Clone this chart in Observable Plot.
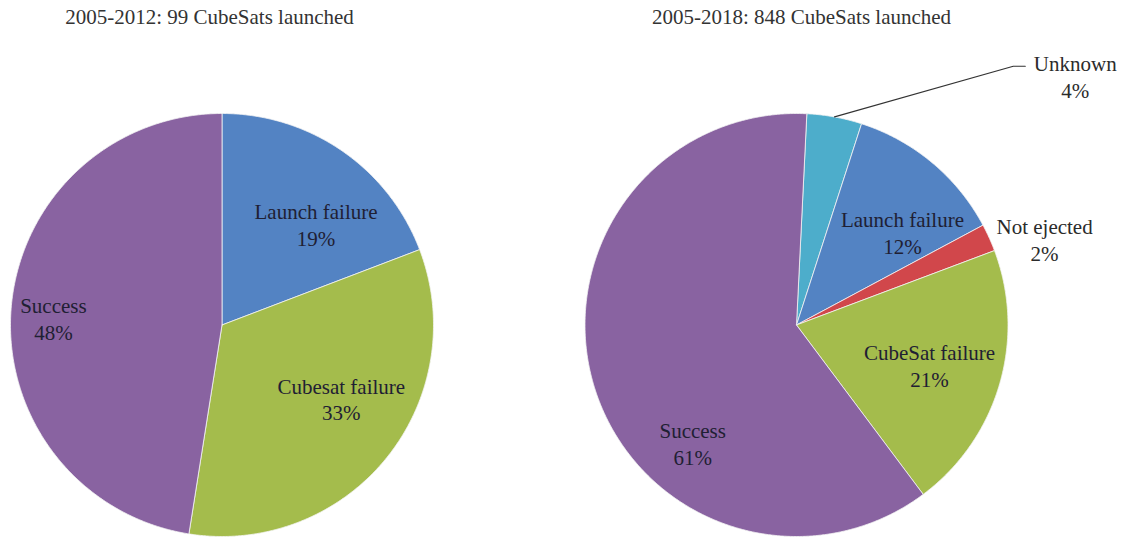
<!DOCTYPE html>
<html><head><meta charset="utf-8">
<script src="https://cdn.jsdelivr.net/npm/d3@7"></script>
<script src="https://cdn.jsdelivr.net/npm/@observablehq/plot@0.6"></script>
<style>body{margin:0;background:#fff;}</style>
</head><body><div id="chart"></div>
<script>
// ---- data ----
const titles = ["2005-2012: 99 CubeSats launched", "2005-2018: 848 CubeSats launched"];
const categories1 = ["Launch failure", "Cubesat failure", "Success"];
const values1 = [19.2, 33.3, 47.5];
const labels1 = ["19%", "33%", "48%"];
const categories2 = ["Unknown", "Launch failure", "Not ejected", "CubeSat failure", "Success"];
const values2 = [4.2, 12.2, 2.1, 20.5, 61.0];
const labels2 = ["4%", "12%", "2%", "21%", "61%"];

// ---- styling / layout ----
const colorOf = {
  "launch failure": "#5383C3",
  "cubesat failure": "#A4BC4C",
  "success": "#8963A1",
  "unknown": "#4DADCB",
  "not ejected": "#D1474B"
};
const FONT = "Liberation Serif";
const FS = 21;
const R = 211.5; // px per unit (pie radius)
const W = 1125, H = 537;
const cx1 = 221.5, cx2 = 796, cy = 324.5;
const xDomain = [-cx1 / R, (W - cx1) / R];
const yDomain = [-(H - cy) / R, cy / R];
const pies = [
  {cats: categories1, vals: values1, labs: labels1, cx: 0, cy: 0, start: 0,
   layout: [[43, 0.652], [121.6, 0.662], [272.5, 0.798]]},
  {cats: categories2, vals: values2, labs: labels2, cx: (cx2 - cx1) / R, cy: 0, start: 2.8,
   layout: [[48.2, 1.768], [48.7, 0.667], [70.8, 1.242], [106.5, 0.656], [221.4, 0.742]]}
];
const rad = Math.PI / 180;
const marks = [];
const texts = [];
let leader = null;
pies.forEach((p, pi) => {
  const arcs = d3.pie().sort(null).value(d => d)
    .startAngle(p.start * rad).endAngle(p.start * rad + 2 * Math.PI)(p.vals);
  arcs.forEach((a, i) => {
    const pts = [{x: p.cx, y: p.cy}];
    const n = Math.max(4, Math.ceil((a.endAngle - a.startAngle) / (0.4 * rad)));
    for (let k = 0; k <= n; k++) {
      const t = a.startAngle + (a.endAngle - a.startAngle) * k / n;
      pts.push({x: p.cx + Math.sin(t), y: p.cy + Math.cos(t)});
    }
    pts.push({x: p.cx, y: p.cy});
    marks.push(Plot.line(pts, {x: "x", y: "y", fill: colorOf[p.cats[i].toLowerCase()],
      stroke: "#f4f4f4", strokeWidth: 0.8, strokeLinejoin: "round"}));
    const [ang, rf] = p.layout[i];
    const lx = p.cx + rf * Math.sin(ang * rad), ly = p.cy + rf * Math.cos(ang * rad);
    const outside = rf > 1;
    texts.push({x: lx, y: ly, text: p.cats[i] + "\n" + p.labs[i], outside});
    if (p.cats[i] === "Unknown") {
      const mid = (a.startAngle + a.endAngle) / 2;
      leader = [
        {x: p.cx + Math.sin(mid), y: p.cy + Math.cos(mid)},
        {x: lx - 62 / R, y: ly + 9.5 / R},
        {x: lx - 50 / R, y: ly + 9.5 / R}
      ];
    }
  });
});
if (leader) marks.push(Plot.line(leader, {x: "x", y: "y", stroke: "#333", strokeWidth: 1.2}));
marks.push(Plot.text(texts, {x: "x", y: "y", text: "text", fill: d => d.outside ? "#2b2b2b" : "#1f2033",
  fontSize: FS, lineHeight: 27 / FS, fontFamily: FONT}));
marks.push(Plot.text([titles[0]], {x: () => pies[0].cx, frameAnchor: "top", lineAnchor: "middle", dy: 17, dx: -12.5,
  text: d => d, fontSize: FS, fill: "#333", fontFamily: FONT}));
marks.push(Plot.text([titles[1]], {x: () => pies[1].cx, frameAnchor: "top", lineAnchor: "middle", dy: 17, dx: 5,
  text: d => d, fontSize: FS, fill: "#333", fontFamily: FONT}));

const chart = Plot.plot({
  width: W, height: H,
  margin: 0,
  x: {domain: xDomain, axis: null},
  y: {domain: yDomain, axis: null},
  style: {fontFamily: FONT, background: "#fff"},
  marks
});
document.getElementById("chart").appendChild(chart);
</script>
</body></html>
